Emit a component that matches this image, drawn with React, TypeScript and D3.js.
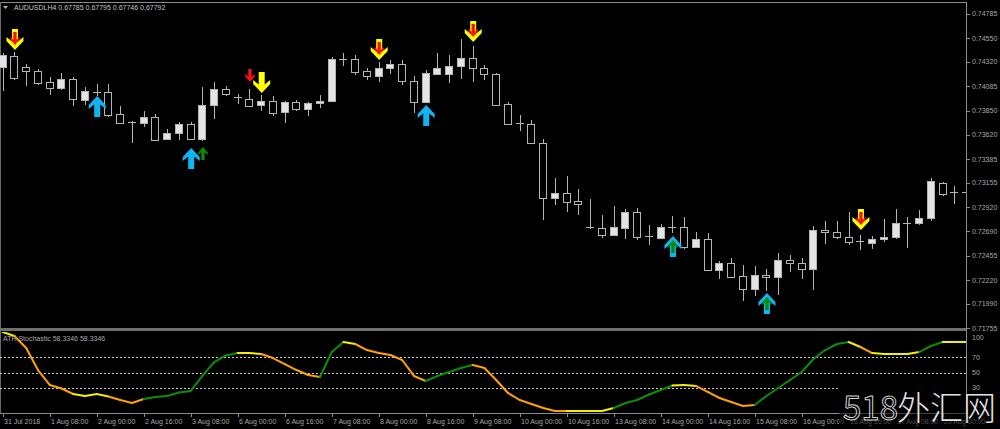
import React from 'react';
import * as d3 from 'd3';

// AUDUSD H4 candles, 31 Jul – 20 Aug 2018
const opens = [
  0.74272, 0.74378, 0.74272, 0.74233, 0.74127, 0.7407, 0.74156, 0.73954, 0.74031, 0.74031,
  0.73819, 0.73742, 0.73733, 0.7379, 0.73578, 0.73636, 0.73723, 0.73578, 0.73906, 0.7406,
  0.73978, 0.73964, 0.73906, 0.73944, 0.73838, 0.73935, 0.73867, 0.73925, 0.73944, 0.74349,
  0.74349, 0.74233, 0.74185, 0.74262, 0.74301, 0.74137, 0.73935, 0.74204, 0.74204, 0.74281,
  0.74359, 0.74262, 0.74204, 0.73916, 0.73733, 0.73723, 0.7354, 0.7301, 0.73058, 0.72981,
  0.72731, 0.72721, 0.72654, 0.72721, 0.72875, 0.72644, 0.72625, 0.72731, 0.72731, 0.72538,
  0.72615, 0.72317, 0.72384, 0.72259, 0.72134, 0.72269, 0.7225, 0.72413, 0.72384, 0.72327,
  0.72702, 0.72683, 0.72635, 0.72596, 0.72577, 0.72615, 0.72635, 0.7277, 0.7277, 0.72818,
  0.73155, 0.73068, 0.73068,
];
const highs = [
  0.74407, 0.74416, 0.74301, 0.74253, 0.74176, 0.74214, 0.74176, 0.74079, 0.74108, 0.74108,
  0.73896, 0.73752, 0.73848, 0.73819, 0.73675, 0.73742, 0.73742, 0.74079, 0.74127, 0.74089,
  0.74012, 0.7406, 0.74002, 0.73993, 0.73944, 0.73954, 0.73935, 0.74002, 0.74368, 0.74407,
  0.74387, 0.74262, 0.7432, 0.74339, 0.74339, 0.74185, 0.74243, 0.74407, 0.74387, 0.74541,
  0.74474, 0.74291, 0.74214, 0.73935, 0.7381, 0.73761, 0.73578, 0.73203, 0.73222, 0.73097,
  0.73001, 0.72847, 0.72933, 0.72904, 0.72914, 0.7275, 0.7276, 0.72837, 0.72827, 0.72683,
  0.72673, 0.72404, 0.72433, 0.72365, 0.72355, 0.72327, 0.72481, 0.72461, 0.72433, 0.72741,
  0.72789, 0.72789, 0.72875, 0.72654, 0.72644, 0.72808, 0.72904, 0.72827, 0.72895, 0.73203,
  0.73164, 0.73126, 0.73174,
];
const lows = [
  0.7405, 0.74156, 0.74098, 0.74108, 0.74012, 0.7406, 0.73906, 0.73916, 0.74002, 0.738,
  0.73733, 0.7355, 0.73704, 0.73569, 0.73578, 0.73578, 0.73578, 0.73569, 0.73781, 0.74002,
  0.73925, 0.73896, 0.73858, 0.7381, 0.73742, 0.73858, 0.7381, 0.73887, 0.73944, 0.74291,
  0.74204, 0.74156, 0.74137, 0.74214, 0.74108, 0.73838, 0.73935, 0.74204, 0.74127, 0.74166,
  0.74137, 0.74156, 0.73906, 0.73723, 0.73665, 0.7354, 0.72808, 0.72953, 0.72885, 0.72856,
  0.72721, 0.72635, 0.72654, 0.72625, 0.72615, 0.72567, 0.72625, 0.72683, 0.72529, 0.72538,
  0.72317, 0.7224, 0.7225, 0.72028, 0.72076, 0.72124, 0.72086, 0.72307, 0.7224, 0.72134,
  0.72577, 0.72625, 0.72567, 0.72519, 0.72529, 0.72596, 0.72625, 0.72538, 0.7276, 0.72798,
  0.73039, 0.72962, 0.73001,
];
const closes = [
  0.74387, 0.74166, 0.74233, 0.74118, 0.7407, 0.74156, 0.73964, 0.74041, 0.74031, 0.7381,
  0.73733, 0.73733, 0.7379, 0.73569, 0.73636, 0.73723, 0.73578, 0.73906, 0.7406, 0.74012,
  0.73973, 0.73896, 0.73944, 0.73829, 0.73935, 0.73867, 0.73925, 0.73944, 0.74349, 0.74349,
  0.74224, 0.74185, 0.74262, 0.74301, 0.74137, 0.73935, 0.74214, 0.74262, 0.74281, 0.74359,
  0.74262, 0.74204, 0.73906, 0.73723, 0.73723, 0.7354, 0.7301, 0.73058, 0.72972, 0.72953,
  0.72721, 0.72654, 0.72731, 0.72875, 0.72635, 0.72644, 0.72731, 0.72731, 0.72538, 0.72615,
  0.72317, 0.72384, 0.7225, 0.72134, 0.72269, 0.7225, 0.72413, 0.72384, 0.72327, 0.72702,
  0.72683, 0.72635, 0.72587, 0.72587, 0.72615, 0.72635, 0.7277, 0.7277, 0.72818, 0.73174,
  0.73049, 0.73058, 0.73068,
];

// ATR Stochastic buffer and its per-segment trend state (1 up, -1 down, 0 flat)
const stoch = [
  102.6, 97.4, 81.8, 53.2, 33.8, 29.2, 22.1, 19.5, 22.1, 18.8,
  14.3, 10.4, 15.6, 18.2, 19.5, 24.0, 26.0, 45.5, 63.6, 72.1,
  75.3, 75.3, 74.0, 68.8, 61.0, 53.2, 46.8, 44.2, 76.6, 89.6,
  87.0, 79.2, 75.3, 72.7, 66.2, 45.5, 39.0, 45.5, 50.6, 55.8,
  59.7, 55.8, 40.3, 23.4, 14.3, 9.1, 3.9, 0, 0, 0,
  0, 0, 3.9, 10.4, 14.3, 21.4, 27.3, 33.1, 33.8, 32.5,
  24.7, 16.9, 11.7, 6.5, 7.8, 19.5, 29.9, 40.3, 50.6, 67.5,
  79.2, 87.0, 89.6, 83.1, 75.3, 74.0, 74.0, 74.0, 76.6, 84.4,
  89.6, 89.6, 89.6,
];
const stochTrend = [
  0, -1, -1, -1, -1, -1, 0, 0, 0, -1,
  -1, -1, 1, 1, 1, 1, 1, 1, 1, 1,
  0, 0, -1, -1, -1, -1, -1, 1, 1, 0,
  -1, -1, -1, -1, -1, -1, 1, 1, 1, 1,
  -1, -1, -1, -1, -1, -1, -1, -1, 0, 0,
  0, 0, 1, 1, 1, 1, 1, 0, 0, -1,
  -1, -1, -1, -1, 1, 1, 1, 1, 1, 1,
  1, 1, 0, -1, 0, 0, 0, 0, 1, 1,
  0, 0,
];

// Signal arrows: bar index and price of the arrow tip
const sellBars = [1, 22, 32, 40, 73];
const sellLevels = [0.74436, 0.74021, 0.74339, 0.74513, 0.72702];
const warnBars = [1, 21, 32, 40, 73];
const warnLevels = [0.74484, 0.74127, 0.74387, 0.74561, 0.7275];
const buyBars = [8, 16, 36, 57, 65];
const buyLevels = [0.73993, 0.73492, 0.73906, 0.72644, 0.72095];
const confirmBars = [17, 57, 65];
const confirmLevels = [0.73501, 0.72606, 0.72057];

const priceTicks = [
  0.74785, 0.7455, 0.7432, 0.74085, 0.7385, 0.7362, 0.73385,
  0.73155, 0.7292, 0.7269, 0.72455, 0.7222, 0.7199, 0.71755,
];
const stochLevels = [70, 50, 30];
const stochTicks = [100, 70, 50, 30];

const timeTickBars = [0, 4, 8, 12, 16, 20, 24, 28, 32, 36, 40, 44, 48, 52, 56, 60, 64, 68, 72, 76, 80];
const timeTickLabels = [
  '31 Jul 2018', '1 Aug 08:00', '2 Aug 00:00', '2 Aug 16:00', '3 Aug 08:00', '6 Aug 00:00',
  '6 Aug 16:00', '7 Aug 08:00', '8 Aug 00:00', '8 Aug 16:00', '9 Aug 08:00', '10 Aug 00:00',
  '10 Aug 16:00', '13 Aug 08:00', '14 Aug 00:00', '14 Aug 16:00', '15 Aug 08:00', '16 Aug 00:00',
  '16 Aug 16:00', '17 Aug 08:00', '20 Aug 00:00',
];

const symbolTitle = 'AUDUSDLH4  0.67785 0.67795 0.67746 0.67792';
const indicatorTitle = 'ATR Stochastic 58.3346 58.3346';

const W = 1000;
const H = 429;
const AXIS_X = 966;
const MAIN_TOP = 2;
const MAIN_BOTTOM = 328;
const SUB_TOP = 331;
const SUB_BOTTOM = 413;

const FONT = '"Liberation Sans", Arial, sans-serif';
const AXIS_TEXT = '#a8a8a8';
const CANDLE_LINE = '#b4b4b4';
const CANDLE_UP = '#e4e4e4';

const ARROW_UP = 'M0,0 L8.5,9 L8.5,13 L3,8.5 L3,21 L-3,21 L-3,8.5 L-8.5,13 L-8.5,9 Z';

const trendColor = (t: number) => (t > 0 ? '#0c8c0c' : t < 0 ? '#ffa200' : '#f4f000');

export default function App() {
  const n = opens.length;
  const x = d3.scaleLinear().domain([0, 82]).range([2.7, 966.2]);
  const y = d3.scaleLinear().domain([0.71755, 0.74785]).range([328.3, 13.7]);
  const ys = d3.scaleLinear().domain([0, 100]).range([411, 334]);

  const px = (i: number) => Math.round(x(i));
  const py = (v: number) => Math.round(y(v));

  const candles = d3.range(n).map((i) => {
    const cx = px(i);
    const o = opens[i];
    const c = closes[i];
    const top = py(Math.max(o, c));
    const bot = py(Math.min(o, c));
    const up = c > o;
    return (
      <g key={i}>
        <line x1={cx + 0.5} x2={cx + 0.5} y1={py(highs[i])} y2={py(lows[i]) + 1} stroke={CANDLE_LINE} strokeWidth={1} />
        {bot - top < 2 ? (
          <line x1={cx - 4} x2={cx + 4} y1={top + 0.5} y2={top + 0.5} stroke={CANDLE_LINE} strokeWidth={1} />
        ) : (
          <rect x={cx - 3.5} y={top + 0.5} width={7} height={bot - top} fill={up ? CANDLE_UP : '#000'} stroke={CANDLE_LINE} strokeWidth={1} />
        )}
      </g>
    );
  });

  const arrow = (key: string, bar: number, level: number, down: boolean, color: string, small: boolean) => {
    const sx = small ? 0.55 : 1;
    const sy = (small ? 0.62 : 1) * (down ? -1 : 1);
    return (
      <path key={key} d={ARROW_UP} fill={color} transform={`translate(${x(bar) + 0.5},${y(level)}) scale(${sx},${sy})`} />
    );
  };

  const stochSegments = d3.range(n - 1).map((i) => (
    <line
      key={i}
      x1={x(i)}
      y1={ys(stoch[i])}
      x2={x(i + 1)}
      y2={ys(stoch[i + 1])}
      stroke={trendColor(stochTrend[i])}
      strokeWidth={2}
      strokeLinecap="round"
    />
  ));

  return (
    <svg
      width={W}
      height={H}
      viewBox={`0 0 ${W} ${H}`}
      style={{ position: 'absolute', left: 0, top: 0, background: '#000', display: 'block' }}
    >
      <defs>
        <clipPath id="mainClip">
          <rect x={0} y={MAIN_TOP + 1} width={AXIS_X} height={MAIN_BOTTOM - MAIN_TOP - 1} />
        </clipPath>
        <clipPath id="subClip">
          <rect x={0} y={SUB_TOP + 1} width={AXIS_X} height={SUB_BOTTOM - SUB_TOP - 1} />
        </clipPath>
      </defs>
      <rect x={0} y={0} width={W} height={H} fill="#000" />

      {/* frame */}
      <line x1={0} x2={AXIS_X} y1={MAIN_TOP + 0.5} y2={MAIN_TOP + 0.5} stroke="#8a8a8a" />
      <line x1={0.5} x2={0.5} y1={MAIN_TOP} y2={SUB_BOTTOM} stroke="#6a6a6a" />
      <rect x={0} y={MAIN_BOTTOM} width={AXIS_X} height={3} fill="#707070" />
      <line x1={AXIS_X + 0.5} x2={AXIS_X + 0.5} y1={MAIN_TOP} y2={SUB_BOTTOM + 1} stroke="#8a8a8a" />
      <line x1={0} x2={AXIS_X} y1={SUB_BOTTOM + 0.5} y2={SUB_BOTTOM + 0.5} stroke="#8a8a8a" />

      {/* price axis */}
      {priceTicks.map((v) => (
        <g key={v}>
          <line x1={AXIS_X} x2={AXIS_X + 4} y1={py(v) + 0.5} y2={py(v) + 0.5} stroke="#8a8a8a" />
          <text x={972} y={y(v) + 2.5} fill={AXIS_TEXT} fontSize={7} fontFamily={FONT}>
            {v.toFixed(5)}
          </text>
        </g>
      ))}

      {/* candles and signals */}
      <g clipPath="url(#mainClip)">
        {candles}
        {sellBars.map((b, k) => arrow(`s${k}`, b, sellLevels[k], true, '#ffff00', false))}
        {warnBars.map((b, k) => arrow(`w${k}`, b, warnLevels[k], true, '#ff1010', true))}
        {buyBars.map((b, k) => arrow(`b${k}`, b, buyLevels[k], false, '#10b4f0', false))}
        {confirmBars.map((b, k) => arrow(`c${k}`, b, confirmLevels[k], false, '#0a8a0a', true))}
      </g>

      {/* title */}
      <path d="M3,6 L8,6 L5.5,9 Z" fill="#b0b0b0" />
      <text x={14} y={10} fill="#c4c4c4" fontSize={7} fontFamily={FONT}>
        {symbolTitle}
      </text>

      {/* indicator window */}
      <g clipPath="url(#subClip)">
        {stochLevels.map((v) => (
          <line key={v} x1={0} x2={AXIS_X} y1={Math.round(ys(v)) + 0.5} y2={Math.round(ys(v)) + 0.5} stroke="#c8c8c8" strokeDasharray="2,2" />
        ))}
        {stochSegments}
      </g>
      <text x={3} y={341} fill={AXIS_TEXT} fontSize={7} fontFamily={FONT}>
        {indicatorTitle}
      </text>
      {stochTicks.map((v) => (
        <text key={v} x={972} y={Math.max(ys(v), SUB_TOP + 6) + 2.5} fill={AXIS_TEXT} fontSize={7} fontFamily={FONT}>
          {v}
        </text>
      ))}

      {/* time axis */}
      {timeTickBars.map((b, k) => (
        <g key={b}>
          <line x1={px(b) + 0.5} x2={px(b) + 0.5} y1={SUB_BOTTOM} y2={SUB_BOTTOM + 4} stroke="#8a8a8a" />
          <text x={px(b) + 1} y={424} fill={AXIS_TEXT} fontSize={7} fontFamily={FONT}>
            {timeTickLabels[k]}
          </text>
        </g>
      ))}

      {/* site mark */}
      <rect x={839} y={383} width={127} height={30} fill="#000" />
      <rect x={839} y={413} width={161} height={16} fill="#000" opacity={0.55} />
      <text x={843} y={420} fontSize={33} fontFamily='"Noto Sans CJK SC", sans-serif' fill="none" stroke="#d0d0d0" strokeWidth={1}>
        518
      </text>
      <text x={897} y={420} fontSize={33} fontFamily='"Noto Sans CJK SC", sans-serif' fill="#e2e2e2" fontWeight={300}>
        外汇网
      </text>
    </svg>
  );
}
